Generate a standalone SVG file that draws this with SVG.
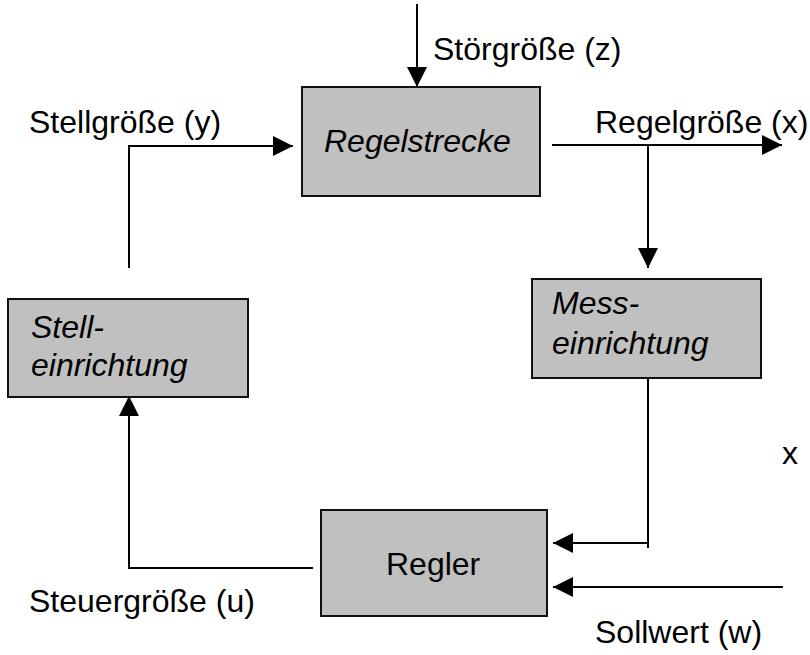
<svg xmlns="http://www.w3.org/2000/svg" width="810" height="655" viewBox="0 0 810 655">
<style>
text{font-family:"Liberation Sans",Arial,sans-serif;font-size:32px;fill:#000}
.it{font-style:italic}
.box{fill:#c0c0c0;stroke:#111;stroke-width:2}
.ln{fill:none;stroke:#000;stroke-width:2}
</style>
<defs>
<marker id="ah" markerUnits="userSpaceOnUse" markerWidth="20" markerHeight="20" viewBox="0 0 20 20" refX="20" refY="10" orient="auto">
<path d="M0,0 L20,10 L0,20 Z" fill="#000"/>
</marker>
</defs>
<rect width="810" height="655" fill="#fff"/>
<g id="connectors">
<line class="ln" x1="417" y1="4" x2="417" y2="87" marker-end="url(#ah)"/>
<polyline class="ln" points="129,268 129,146 293,146" marker-end="url(#ah)"/>
<line class="ln" x1="552" y1="145" x2="782" y2="145" marker-end="url(#ah)"/>
<line class="ln" x1="648" y1="145" x2="648" y2="268" marker-end="url(#ah)"/>
<polyline class="ln" points="648,378 648,548"/>
<line class="ln" x1="649" y1="543" x2="553" y2="543" marker-end="url(#ah)"/>
<line class="ln" x1="783" y1="587" x2="553" y2="587" marker-end="url(#ah)"/>
<polyline class="ln" points="313,568 129,568 129,396" marker-end="url(#ah)"/>
</g>
<g id="regelstrecke">
<rect class="box" x="302" y="87" width="238" height="109"/>
<text class="it" x="324" y="152">Regelstrecke</text>
</g>
<g id="messeinrichtung">
<rect class="box" x="532" y="279" width="229" height="99"/>
<text class="it" x="552" y="314">Mess-</text>
<text class="it" x="552" y="354">einrichtung</text>
</g>
<g id="stelleinrichtung">
<rect class="box" x="8" y="299" width="240" height="98"/>
<text class="it" x="31" y="338">Stell-</text>
<text class="it" x="31" y="376">einrichtung</text>
</g>
<g id="regler">
<rect class="box" x="321" y="510" width="226" height="106"/>
<text x="386" y="575">Regler</text>
</g>
<g id="labels">
<text x="433" y="60">Störgröße (z)</text>
<text x="29" y="133">Stellgröße (y)</text>
<text x="595" y="133">Regelgröße (x)</text>
<text x="782" y="464">x</text>
<text x="29" y="612">Steuergröße (u)</text>
<text x="595" y="643">Sollwert (w)</text>
</g>
</svg>
